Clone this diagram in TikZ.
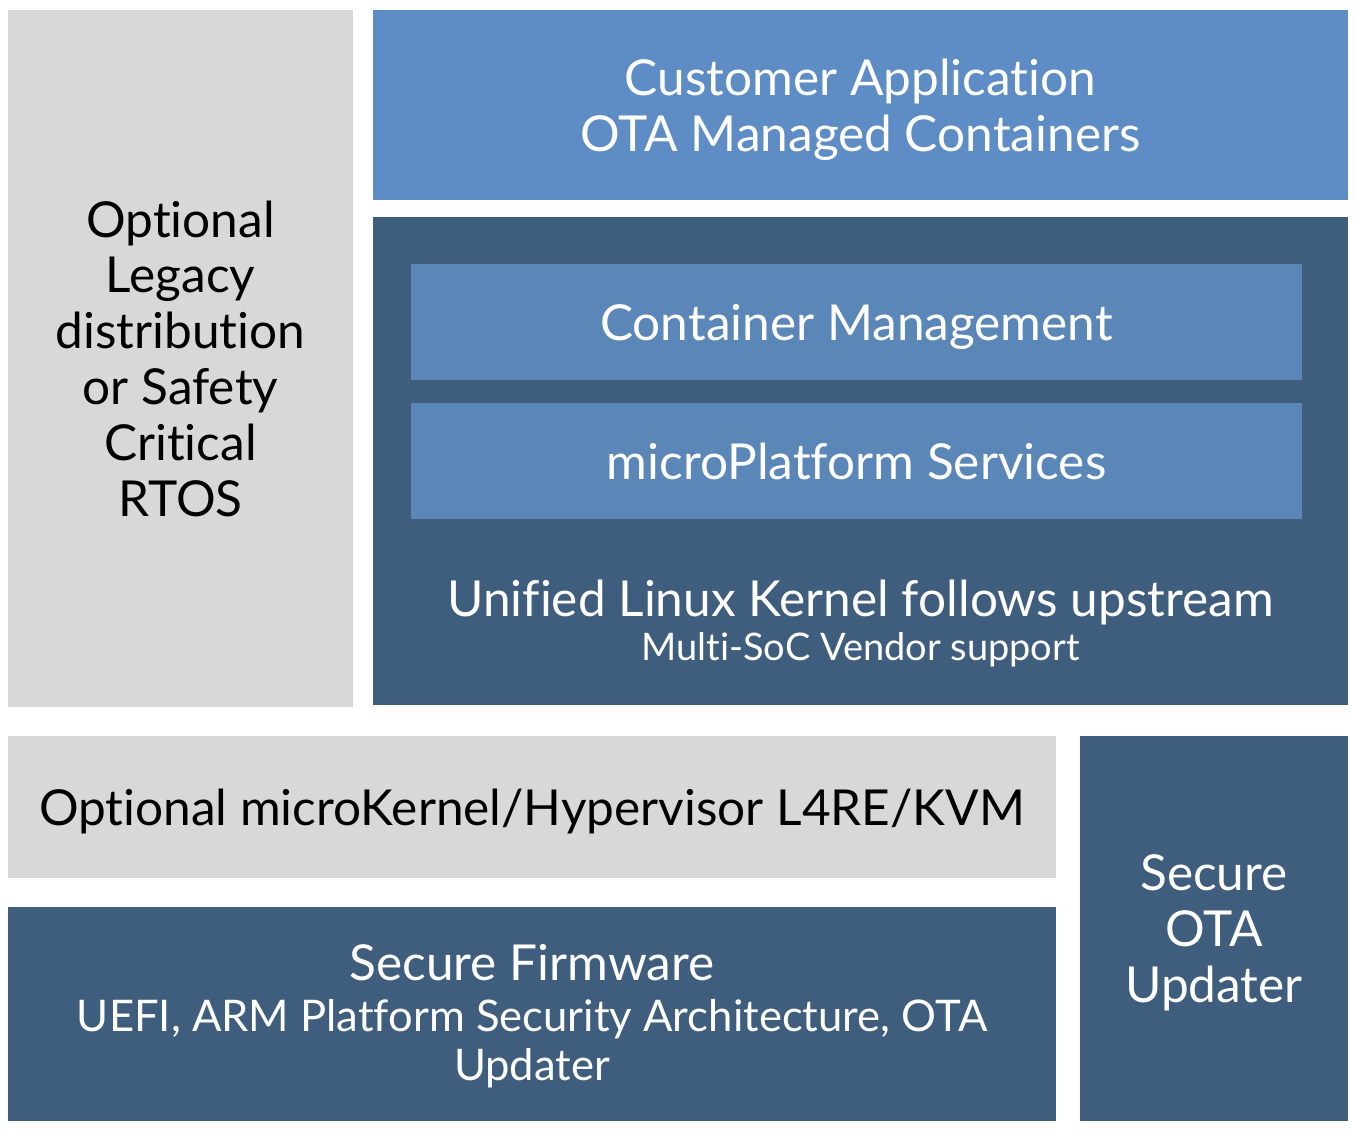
\documentclass[tikz,border=0pt]{standalone}
\usepackage{fontspec}
\setmainfont{Lato}[RawFeature=-liga]
\usetikzlibrary{positioning}
\definecolor{layerGray}{HTML}{D8D8D8}
\definecolor{layerDark}{HTML}{3F5D7D}
\definecolor{layerBlue}{HTML}{5E8DC5}
\definecolor{layerInner}{HTML}{5A86B8}
\newcommand{\bigtxt}{\fontsize{14.1}{15.9}\selectfont}
\newcommand{\midtxt}{\fontsize{12.4}{14.5}\selectfont}
\newcommand{\smalltxt}{\fontsize{10.8}{12}\selectfont}

\begin{document}
\begin{tikzpicture}[
    layer/.style={inner sep=0pt, align=center, font=\bigtxt, text depth=0pt},
    graylayer/.style={layer, fill=layerGray, text=black},
    darklayer/.style={layer, fill=layerDark, text=white},
    bluelayer/.style={layer, fill=layerBlue, text=white},
    innerlayer/.style={layer, fill=layerInner, text=white}
  ]
  \useasboundingbox (0,0) rectangle (13.58,-11.32);

  % Left column
  \node[graylayer, minimum width=3.45cm, minimum height=6.97cm] (legacy) at (1.805,-3.585)
    {Optional\\Legacy\\distribution\\or Safety\\Critical\\RTOS};

  % Upper stack
  \node[bluelayer, minimum width=9.75cm, minimum height=1.90cm] (customer) at (8.605,-1.05)
    {Customer Application\\OTA Managed Containers};
  \node[darklayer, minimum width=9.75cm, minimum height=4.88cm] (kernel) at (8.605,-4.61) {};
  \node[innerlayer, minimum width=8.91cm, minimum height=1.16cm] (container) at (8.565,-3.22)
    {Container Management};
  \node[innerlayer, minimum width=8.91cm, minimum height=1.16cm] (services) at (8.565,-4.61)
    {microPlatform Services};
  \node[layer, text=white] (unified) at (8.605,-5.98) {Unified Linux Kernel follows upstream};
  \node[layer, text=white, font=\smalltxt] (multisoc) at (8.605,-6.47) {Multi-SoC Vendor support};

  % Lower stack
  \node[graylayer, minimum width=10.48cm, minimum height=1.42cm] (hypervisor) at (5.32,-8.07)
    {Optional microKernel/Hypervisor L4RE/KVM};
  \node[darklayer, minimum width=10.48cm, minimum height=2.14cm] (firmware) at (5.32,-10.14) {};
  \node[layer, text=white] (fwtitle) at (5.32,-9.62) {Secure Firmware};
  \node[layer, text=white, font=\midtxt] (fwdetail) at (5.32,-10.40)
    {UEFI, ARM Platform Security Architecture, OTA\\[-0.5pt]Updater};

  % Right column
  \node[darklayer, minimum width=2.68cm, minimum height=3.85cm] (updater) at (12.14,-9.285)
    {Secure\\OTA\\Updater};
\end{tikzpicture}
\end{document}
